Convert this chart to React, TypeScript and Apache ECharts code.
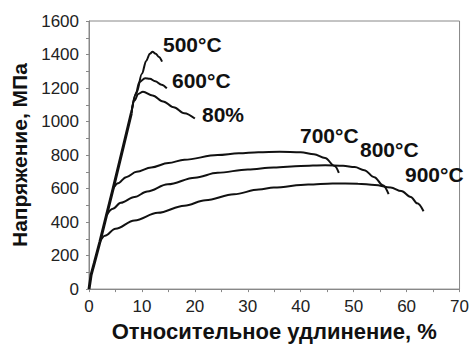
import React, { useEffect, useRef } from "react";
import * as echarts from "echarts";

const xTicks = [0, 10, 20, 30, 40, 50, 60, 70];
const yTicks = [0, 200, 400, 600, 800, 1000, 1200, 1400, 1600];

// common elastic (loading) line shared by all curves
const elastic: [number, number][] = [
  [0, 0], [0.4, 85], [1, 155], [2.06, 282], [3.3, 440], [4.56, 600], [6.4, 840], [8, 1050],
];

const s500: [number, number][] = [
  [8, 1050], [9, 1175], [10, 1285], [10.8, 1362], [11.5, 1405], [12, 1416], [12.6, 1405], [13.2, 1385], [13.8, 1357],
];
const s600: [number, number][] = [
  [8, 1050], [8.8, 1160], [9.5, 1235], [10.6, 1259], [11.5, 1255], [12.5, 1240], [13.7, 1220], [14.7, 1198],
];
const s80: [number, number][] = [
  [8, 1050], [8.6, 1125], [9.3, 1165], [10.2, 1178], [12, 1155], [14, 1120], [16, 1085], [18, 1050], [20, 1018],
];
const s700: [number, number][] = [
  [4.56, 600], [5.5, 632], [7, 668], [9, 700], [11.75, 726], [15, 752], [18, 772], [24.3, 800], [28.3, 810],
  [32, 817], [36, 820], [40, 816], [42.5, 805], [44.6, 782], [46.4, 735], [47.2, 694],
];
const s800: [number, number][] = [
  [3.3, 440], [4.5, 480], [6, 515], [8.6, 550], [11, 582], [14.9, 625], [20, 665], [24.3, 694], [30, 714],
  [34.9, 726], [40, 735], [44.6, 739], [48, 736], [50.2, 728], [52, 710], [53.9, 668], [55.5, 620], [56.6, 567],
];
const s900: [number, number][] = [
  [2.06, 282], [3, 318], [5, 360], [8.6, 410], [13, 455], [18, 498], [22, 530], [27.4, 566], [32.1, 594],
  [34.9, 606], [41.4, 624], [46, 630], [50.8, 629], [54, 622], [57, 606], [59, 585], [60.8, 550], [62, 512], [63.2, 465],
];

const seriesNames = ["500°C", "600°C", "80%", "700°C", "800°C", "900°C"];
const seriesData = [s500, s600, s80, s700, s800, s900];

const xTitle = "Относительное удлинение, %";
const yTitle = "Напряжение, МПа";

export default function App() {
  const ref = useRef<HTMLDivElement>(null);
  useEffect(() => {
    if (!ref.current) return;
    const chart = echarts.init(ref.current, undefined, { renderer: "svg" });
    const font = "'Liberation Sans', Arial, sans-serif";
    const labelPos = [
      [163, 45], [172, 81], [202, 115], [300, 136], [360, 150], [405, 175],
    ];
    chart.setOption({
      animation: false,
      backgroundColor: "#fff",
      grid: {
        left: 89, right: 10, top: 21, bottom: 54,
        show: true, borderColor: "#888", borderWidth: 1,
      },
      xAxis: {
        type: "value", min: 0, max: 70, interval: 10,
        name: xTitle, nameLocation: "middle", nameGap: 24,
        nameTextStyle: { fontFamily: font, fontWeight: "bold", fontSize: 22, color: "#111" },
        axisLine: { show: true, lineStyle: { color: "#888" } },
        axisTick: { show: true, length: 3, lineStyle: { color: "#888" } },
        minorTick: { show: true, splitNumber: 2, length: 3, lineStyle: { color: "#888" } },
        splitLine: { show: false },
        axisLabel: {
          fontFamily: font, fontSize: 17, color: "#222", margin: 9,
          formatter: (v: number) => (xTicks.includes(v) ? String(v) : ""),
        },
      },
      yAxis: {
        type: "value", min: 0, max: 1600, interval: 200,
        name: yTitle, nameLocation: "middle", nameGap: 58, nameRotate: 90,
        nameTextStyle: { fontFamily: font, fontWeight: "bold", fontSize: 21, color: "#111" },
        axisLine: { show: true, lineStyle: { color: "#888" } },
        axisTick: { show: true, length: 3, lineStyle: { color: "#888" } },
        minorTick: { show: true, splitNumber: 2, length: 3, lineStyle: { color: "#888" } },
        splitLine: { show: false },
        axisLabel: {
          fontFamily: font, fontSize: 17, color: "#222", margin: 10,
          formatter: (v: number) => (yTicks.includes(v) ? String(v) : ""),
        },
      },
      series: [
        {
          name: "elastic",
          type: "line",
          data: elastic,
          showSymbol: false,
          smooth: false,
          lineStyle: { color: "#111", width: 3 },
          z: 4,
        },
        ...seriesData.map((d, i) => ({
          name: seriesNames[i],
          type: "line",
          data: d,
          showSymbol: false,
          smooth: 0.35,
          smoothMonotone: "x",
          lineStyle: { color: "#111", width: 2 },
          z: 3,
        })),
      ],
      graphic: seriesNames.map((n, i) => ({
        type: "text",
        left: labelPos[i][0],
        top: labelPos[i][1] - 11,
        style: {
          text: n,
          font: `bold 21px ${font}`,
          fill: "#111",
        },
      })),
    });
    return () => chart.dispose();
  }, []);
  return (
    <div
      ref={ref}
      style={{ position: "fixed", left: 0, top: 0, width: 472, height: 347 }}
    />
  );
}
